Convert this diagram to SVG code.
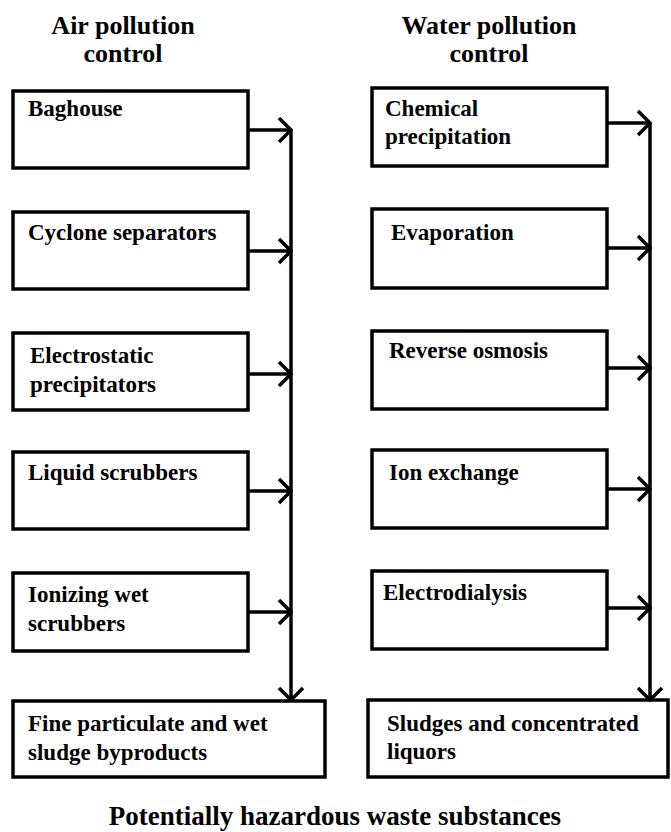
<svg xmlns="http://www.w3.org/2000/svg" width="671" height="832" viewBox="0 0 671 832">
<style>
.box{fill:#fff;stroke:#000;stroke-width:3.5}
.t{font-weight:bold;font-size:23px;fill:#000}
.h{font-weight:bold;font-size:27px;fill:#000;text-anchor:middle}
.ht{font-weight:bold;font-size:26px;fill:#000;text-anchor:middle}
.c{stroke:#000;stroke-width:3.5;fill:none}
</style>
<defs>
<marker id="ah" viewBox="0 0 16 28" refX="14" refY="14" markerWidth="16" markerHeight="28" markerUnits="userSpaceOnUse" orient="auto">
<path d="M2,2 L14,14 L2,26" fill="none" stroke="#000" stroke-width="3.5"/>
</marker>
</defs>
<rect width="671" height="832" fill="#fff"/>
<g font-family="'Liberation Serif', 'Times New Roman', Times, serif">
<g id="titles">
<text class="ht" x="123" y="34">Air pollution</text>
<text class="ht" x="123" y="62">control</text>
<text class="ht" x="489" y="34">Water pollution</text>
<text class="ht" x="489" y="62">control</text>
</g>
<g id="baghouse"><rect class="box" x="13" y="91" width="235" height="77"/><text class="t" x="28" y="116">Baghouse</text></g>
<g id="cyclone"><rect class="box" x="13" y="212" width="235" height="77"/><text class="t" x="28" y="240">Cyclone separators</text></g>
<g id="electrostatic"><rect class="box" x="13" y="333" width="235" height="77"/><text class="t" x="30" y="363">Electrostatic</text><text class="t" x="30" y="392">precipitators</text></g>
<g id="liquid"><rect class="box" x="13" y="452" width="235" height="77"/><text class="t" x="28" y="480">Liquid scrubbers</text></g>
<g id="ionizing"><rect class="box" x="13" y="573" width="235" height="78"/><text class="t" x="28" y="602">Ionizing wet</text><text class="t" x="28" y="631">scrubbers</text></g>
<g id="fine"><rect class="box" x="13" y="701" width="312" height="76"/><text class="t" x="28" y="731">Fine particulate and wet</text><text class="t" x="28" y="760">sludge byproducts</text></g>
<g id="chemical"><rect class="box" x="372" y="88" width="235" height="78"/><text class="t" x="385" y="116">Chemical</text><text class="t" x="385" y="144">precipitation</text></g>
<g id="evaporation"><rect class="box" x="372" y="209" width="235" height="79"/><text class="t" x="391" y="240">Evaporation</text></g>
<g id="reverse"><rect class="box" x="372" y="331" width="235" height="78"/><text class="t" x="389" y="358">Reverse osmosis</text></g>
<g id="ion"><rect class="box" x="372" y="450" width="235" height="78"/><text class="t" x="389" y="480">Ion exchange</text></g>
<g id="electrodialysis"><rect class="box" x="372" y="571" width="235" height="78"/><text class="t" x="383" y="600">Electrodialysis</text></g>
<g id="sludges"><rect class="box" x="368" y="700" width="300" height="77"/><text class="t" x="387" y="731">Sludges and concentrated</text><text class="t" x="387" y="759">liquors</text></g>
<g id="footer"><text class="h" x="335" y="825">Potentially hazardous waste substances</text></g>
</g>
<g id="connectors">
<path class="c" d="M291,130 V700" marker-end="url(#ah)"/>
<path class="c" d="M248,130 H291" marker-end="url(#ah)"/>
<path class="c" d="M248,251 H291" marker-end="url(#ah)"/>
<path class="c" d="M248,374 H291" marker-end="url(#ah)"/>
<path class="c" d="M248,491 H291" marker-end="url(#ah)"/>
<path class="c" d="M248,612 H291" marker-end="url(#ah)"/>
<path class="c" d="M650,123 V700" marker-end="url(#ah)"/>
<path class="c" d="M607,123 H650" marker-end="url(#ah)"/>
<path class="c" d="M607,248 H650" marker-end="url(#ah)"/>
<path class="c" d="M607,368 H650" marker-end="url(#ah)"/>
<path class="c" d="M607,489 H650" marker-end="url(#ah)"/>
<path class="c" d="M607,608 H650" marker-end="url(#ah)"/>
</g>
</svg>
